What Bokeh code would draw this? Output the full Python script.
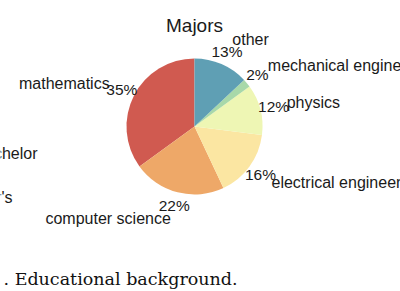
import numpy as np
from bokeh.plotting import figure
from bokeh.models import ColumnDataSource
from bokeh.core.properties import value
from bokeh.embed import file_html
from bokeh.resources import INLINE

# ---- data ----
majors = ["mathematics", "computer science", "electrical engineering",
          "physics", "mechanical engineering", "other"]
shares = [35, 22, 16, 12, 2, 13]
colors = ["#d05a50", "#eea868", "#fbe6a2", "#eef6b4", "#a8d8a9", "#5f9fb4"]
title_text = "Majors"
neighbour_labels = ["bachelor", "master's"]      # labels of the cropped neighbouring pie
caption_text = ". Educational background."

# ---- layout (pixels) ----
W, H = 400, 291
cx, cy, R = 194, H - 126, 68

p = figure(width=W, height=H, x_range=(0, W), y_range=(0, H),
           toolbar_location=None, output_backend="svg", min_border=0)
p.axis.visible = False
p.grid.visible = False
p.outline_line_color = None
p.background_fill_color = "white"
p.border_fill_color = "white"

vals = np.array(shares, dtype=float)
frac = vals / vals.sum()
ends = np.cumsum(frac) * 2 * np.pi
starts = ends - frac * 2 * np.pi
start_a = np.pi / 2 + starts
end_a = np.pi / 2 + ends
mid = (start_a + end_a) / 2

src = ColumnDataSource(dict(start=start_a, end=end_a, color=colors))
p.wedge(x=cx, y=cy, radius=R, start_angle="start", end_angle="end",
        fill_color="color", line_color=None, source=src)

font = value("Liberation Sans")
lab_x = cx + 1.4 * R * np.cos(mid)
lab_y = cy + 1.4 * R * np.sin(mid)
align = ["left" if c > 0 else "right" for c in np.cos(mid)]
p.text(x=lab_x, y=lab_y, text=majors, text_align=align, text_baseline="middle",
       text_font=font, text_font_size="16px", text_color="#1a1a1a")

pct_x = cx + 1.2 * R * np.cos(mid)
pct_y = cy + 1.2 * R * np.sin(mid)
pct = ["%d%%" % round(f * 100) for f in frac]
p.text(x=pct_x, y=pct_y, text=pct, text_align="center", text_baseline="middle",
       text_font=font, text_font_size="15.5px", text_color="#1a1a1a")

p.text(x=[cx], y=[H - 25], text=[title_text], text_align="center",
       text_baseline="middle", text_font=font, text_font_size="19px",
       text_color="#1a1a1a")

p.text(x=[37, 12], y=[H - 153, H - 197], text=neighbour_labels, text_align="right",
       text_baseline="middle", text_font=font, text_font_size="16px",
       text_color="#1a1a1a")

p.text(x=[3], y=[H - 278], text=[caption_text], text_align="left",
       text_baseline="alphabetic", text_font=value("DejaVu Serif"),
       text_font_size="17.5px", text_color="#111111")

open("out.html", "w").write(file_html(p, INLINE))
